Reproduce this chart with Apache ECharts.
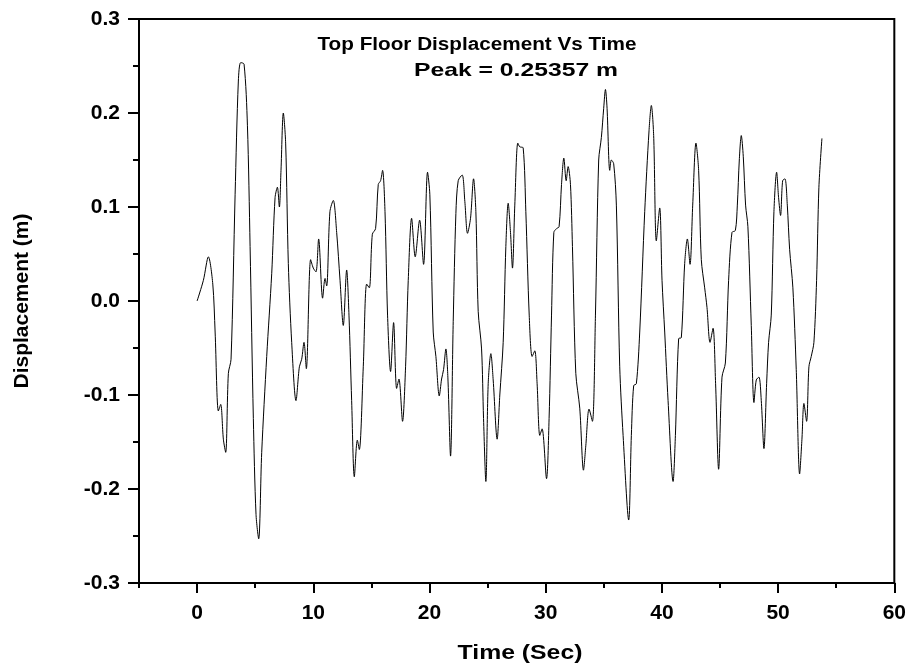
<!DOCTYPE html>
<html>
<head>
<meta charset="utf-8">
<script src="https://cdn.jsdelivr.net/npm/echarts@6/dist/echarts.min.js"></script>
<style>
html,body{margin:0;padding:0;background:#fff;}
#c{width:909px;height:669px;}
</style>
</head>
<body>
<div id="c"></div>
<script>
const titleLine1 = "Top Floor Displacement Vs Time";
const titleLine2 = "Peak = 0.25357 m";
const xAxisName = "Time (Sec)";
const yAxisName = "Displacement (m)";
const xTickValues = [0, 10, 20, 30, 40, 50, 60];
const xMinorTickValues = [-5, 5, 15, 25, 35, 45, 55];

const time = [
  0, 0.54, 0.97, 1.35, 1.55, 1.83, 2.03, 2.26, 2.46, 2.69, 2.92, 3.27, 3.55, 3.75, 4.04, 4.33, 4.56, 4.84, 5.07, 5.30,
  5.56, 5.99, 6.42, 6.71, 6.91, 7.08, 7.22, 7.42, 7.62, 7.85, 8.14, 8.51, 8.80, 9.00, 9.20, 9.40, 9.77, 10.00, 10.23, 10.46,
  10.80, 11.01, 11.15, 11.43, 11.72, 12.01, 12.30, 12.58, 12.87, 13.07, 13.30, 13.53, 13.79, 13.96, 14.30, 14.59, 14.82, 15.08, 15.36, 15.59,
  15.79, 15.96, 16.17, 16.39, 16.65, 16.91, 17.17, 17.37, 17.68, 17.94, 18.17, 18.46, 18.77, 19.15, 19.49, 19.83, 20.03, 20.32, 20.55, 20.84,
  21.04, 21.21, 21.41, 21.58, 21.81, 22.04, 22.27, 22.47, 22.81, 23.04, 23.27, 23.53, 23.79, 23.99, 24.19, 24.48, 24.65, 24.85, 25.05, 25.28,
  25.48, 25.82, 26.05, 26.34, 26.57, 26.77, 26.97, 27.14, 27.34, 27.60, 27.77, 28.06, 28.29, 28.58, 28.83, 29.06, 29.26, 29.49, 29.69, 30.07,
  30.29, 30.50, 30.70, 30.93, 31.15, 31.36, 31.56, 31.76, 31.93, 32.13, 32.30, 32.59, 32.93, 33.25, 33.45, 33.73, 34.02, 34.28, 34.56, 34.79,
  34.99, 35.14, 35.28, 35.51, 35.65, 35.85, 36.08, 36.37, 36.66, 37.14, 37.37, 37.57, 37.80, 38.09, 38.52, 38.89, 39.09, 39.29, 39.52, 39.81,
  40.01, 40.24, 40.53, 40.96, 41.16, 41.44, 41.67, 41.96, 42.19, 42.42, 42.65, 42.93, 43.16, 43.39, 43.68, 43.88, 44.14, 44.40, 44.62, 44.88,
  45.17, 45.46, 45.74, 46.03, 46.32, 46.49, 46.66, 46.83, 47.00, 47.20, 47.40, 47.69, 47.92, 48.12, 48.35, 48.55, 48.78, 49.01, 49.18, 49.41,
  49.64, 49.87, 50.04, 50.21, 50.39, 50.59, 50.79, 50.99, 51.27, 51.56, 51.85, 52.05, 52.22, 52.45, 52.65, 52.85, 53.08, 53.31, 53.51, 53.77
];
const displacement = [
  0.000, 0.022, 0.047, 0.018, -0.033, -0.117, -0.110, -0.147, -0.161, -0.077, -0.062, 0.113, 0.234, 0.2536, 0.252, 0.187, 0.058, -0.125, -0.227, -0.253,
  -0.161, -0.059, 0.029, 0.110, 0.121, 0.100, 0.139, 0.200, 0.168, 0.040, -0.044, -0.106, -0.070, -0.062, -0.044, -0.072, 0.044, 0.035, 0.031, 0.066,
  0.003, 0.024, 0.016, 0.095, 0.107, 0.073, 0.022, -0.026, 0.033, -0.015, -0.106, -0.187, -0.148, -0.158, -0.070, 0.018, 0.014, 0.071, 0.077, 0.124,
  0.128, 0.139, 0.095, -0.015, -0.075, -0.023, -0.093, -0.083, -0.128, -0.070, 0.022, 0.088, 0.047, 0.086, 0.039, 0.137, 0.113, -0.033, -0.059, -0.101,
  -0.083, -0.073, -0.051, -0.081, -0.165, -0.022, 0.093, 0.128, 0.134, 0.106, 0.072, 0.088, 0.130, 0.095, -0.011, -0.051, -0.125, -0.192, -0.088, -0.056,
  -0.084, -0.147, -0.100, -0.044, 0.058, 0.104, 0.073, 0.035, 0.102, 0.168, 0.164, 0.163, 0.095, -0.015, -0.059, -0.053, -0.088, -0.143, -0.136, -0.189,
  -0.125, -0.015, 0.073, 0.077, 0.079, 0.124, 0.152, 0.128, 0.143, 0.124, 0.058, -0.077, -0.114, -0.180, -0.154, -0.115, -0.128, -0.015, 0.150, 0.174,
  0.205, 0.225, 0.205, 0.139, 0.150, 0.146, 0.102, -0.070, -0.143, -0.233, -0.143, -0.090, -0.088, -0.033, 0.095, 0.181, 0.208, 0.176, 0.064, 0.099,
  0.022, -0.033, -0.106, -0.192, -0.143, -0.040, -0.039, 0.040, 0.066, 0.039, 0.102, 0.168, 0.139, 0.044, 0.014, -0.007, -0.044, -0.029, -0.088, -0.179,
  -0.081, -0.066, 0.022, 0.073, 0.075, 0.102, 0.150, 0.176, 0.154, 0.102, 0.079, -0.026, -0.108, -0.084, -0.081, -0.106, -0.157, -0.088, -0.044, -0.015,
  0.095, 0.137, 0.110, 0.091, 0.128, 0.130, 0.102, 0.055, 0.014, -0.073, -0.184, -0.147, -0.109, -0.128, -0.070, -0.059, -0.044, 0.022, 0.121, 0.173
];

const seriesData = time.map((t, i) => [t, displacement[i]]);
const FONT = '"Liberation Sans", Arial, sans-serif';
const GL = 139, GR = 14, GT = 19, GB = 86, H = 669;

const chart = echarts.init(document.getElementById('c'), null, {renderer: 'canvas'});
chart.setOption({
  animation: false,
  backgroundColor: '#fff',
  grid: {
    left: GL, right: GR, top: GT, bottom: GB,
    show: true, borderColor: '#000', borderWidth: 2, backgroundColor: 'transparent'
  },
  graphic: [
    {type: 'text', x: 477, y: 45, scaleX: 1.15, style: {text: titleLine1, font: 'bold 18px ' + FONT, fill: '#000', align: 'center', verticalAlign: 'middle'}},
    {type: 'text', x: 516, y: 71, scaleX: 1.3, style: {text: titleLine2, font: 'bold 19px ' + FONT, fill: '#000', align: 'center', verticalAlign: 'middle'}},
    {type: 'text', x: 520, y: 653, scaleX: 1.18, style: {text: xAxisName, font: 'bold 21px ' + FONT, fill: '#000', align: 'center', verticalAlign: 'middle'}}
  ],
  xAxis: [
    {
      type: 'value', min: -5, max: 60, position: 'bottom',
      axisLine: {show: true, onZero: false, lineStyle: {color: '#000', width: 2}},
      axisTick: {show: true, inside: false, length: 10, lineStyle: {color: '#000', width: 2}, customValues: xTickValues},
      axisLabel: {show: true, margin: 20, customValues: xTickValues, fontFamily: FONT, fontWeight: 'bold', fontSize: 21, color: '#000'},
      splitLine: {show: false}
    },
    {
      type: 'value', min: -5, max: 60, position: 'top', offset: -(H - GT - GB),
      axisLine: {show: false, onZero: false},
      axisTick: {show: true, inside: true, length: 5, lineStyle: {color: '#000', width: 2}, customValues: xMinorTickValues},
      axisLabel: {show: false},
      splitLine: {show: false}
    }
  ],
  yAxis: {
    type: 'value', min: -0.3, max: 0.3, interval: 0.1,
    name: yAxisName, nameLocation: 'middle', nameGap: 106,
    nameTextStyle: {fontFamily: FONT, fontWeight: 'bold', fontSize: 21, color: '#000'},
    axisLine: {show: true, onZero: false, lineStyle: {color: '#000', width: 2}},
    axisTick: {show: true, inside: false, length: 11, lineStyle: {color: '#000', width: 2}},
    minorTick: {show: true, splitNumber: 2, length: 6, lineStyle: {color: '#000', width: 2}},
    axisLabel: {margin: 19, fontFamily: FONT, fontWeight: 'bold', fontSize: 21, color: '#000',
      formatter: v => v.toFixed(1)},
    splitLine: {show: false}
  },
  series: [{
    type: 'line',
    data: seriesData,
    showSymbol: false,
    smooth: 0.3,
    lineStyle: {color: '#000', width: 1},
    xAxisIndex: 0
  }]
});
</script>
</body>
</html>
